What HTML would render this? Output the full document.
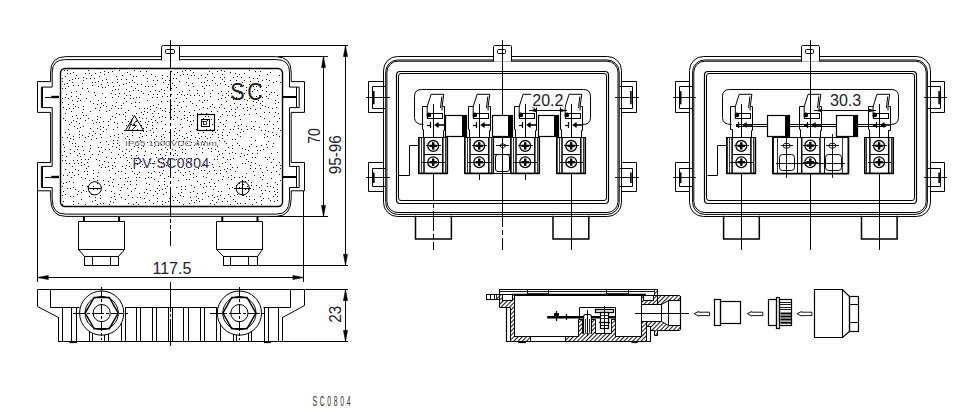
<!DOCTYPE html>
<html><head><meta charset="utf-8"><title>SC0804</title>
<style>
html,body{margin:0;padding:0;background:#fff;}
body{width:966px;height:418px;overflow:hidden;font-family:"Liberation Sans",sans-serif;}
svg{display:block;font-family:"Liberation Sans",sans-serif;}
</style></head><body>
<svg width="966" height="418" viewBox="0 0 966 418" stroke="#000" fill="none" stroke-linecap="butt">
<defs><pattern id="hatch" width="3" height="3" patternUnits="userSpaceOnUse" patternTransform="rotate(-45)"><rect width="3" height="3" fill="#fff" stroke="none"/><line x1="0" y1="1.5" x2="3" y2="1.5" stroke="#000" stroke-width="0.9"/></pattern></defs>
<rect x="0" y="0" width="966" height="418" fill="#fff" stroke="none"/>
<path d="M66.1,56.6 H275.7 Q291.2,56.6 291.2,72.1 V81.6 H304.5 V112.4 H291.2 V162.5 H304.5 V190.8 H291.2 V198.4 Q291.2,216.4 276.2,216.4 H65.6 Q50.6,216.4 50.6,198.4 V190.8 H37.5 V162.5 H50.6 V112.4 H37.5 V81.6 H50.6 V72.1 Q50.6,56.6 66.1,56.6 Z" stroke-width="1" fill="none" />
<path d="M65.2,59.6 H276.5 Q289.5,59.6 289.5,72.1 V87.1 H299.2 V107.6 H289.5 V166.4 H299.2 V187.5 H289.5 V199.1 Q289.5,214.1 276.5,214.1 H65.2 Q52.2,214.1 52.2,199.1 V187.5 H41.4 V166.4 H52.2 V107.6 H41.4 V87.1 H52.2 V72.1 Q52.2,59.6 65.2,59.6 Z" stroke-width="1" fill="none" />
<line x1="42.5" y1="87.0" x2="42.5" y2="108.0" stroke-width="1" />
<line x1="296.5" y1="87.0" x2="296.5" y2="108.0" stroke-width="1" />
<line x1="45.0" y1="97.5" x2="51.0" y2="97.5" stroke-width="1" />
<line x1="51.3" y1="97.0" x2="59.0" y2="97.0" stroke-width="2.4" />
<line x1="282.0" y1="97.0" x2="296.7" y2="97.0" stroke-width="2" />
<line x1="42.5" y1="166.0" x2="42.5" y2="188.0" stroke-width="1" />
<line x1="296.5" y1="166.0" x2="296.5" y2="188.0" stroke-width="1" />
<line x1="45.0" y1="177.5" x2="51.0" y2="177.5" stroke-width="1" />
<line x1="51.3" y1="177.0" x2="59.0" y2="177.0" stroke-width="2.4" />
<line x1="282.0" y1="177.0" x2="296.7" y2="177.0" stroke-width="2" />
<rect x="60.5" y="68.5" width="222.0" height="138.0" rx="4.5" stroke-width="1.4" fill="none" />
<path d="M144 108h1M163 82h1M80 94h1M155 84h1M191 124h1M71 92h1M173 177h1M79 131h1M85 178h1M77 101h1M119 85h1M209 171h1M74 126h1M73 104h1M136 177h1M98 100h1M208 148h1M205 116h1M88 118h1M157 94h1M202 86h1M206 85h1M220 122h1M189 179h1M260 150h1M181 186h1M154 146h1M125 116h1M240 132h1M82 146h1M196 196h1M149 184h1M135 88h1M92 201h1M169 112h1M255 157h1M100 195h1M169 80h1M233 89h1M257 150h1M149 159h1M214 197h1M210 186h1M131 191h1M240 86h1M77 149h1M227 184h1M134 168h1M233 158h1M67 188h1M152 113h1M218 99h1M188 85h1M117 143h1M95 133h1M163 170h1M189 90h1M104 184h1M164 141h1M97 180h1M202 141h1M242 176h1M153 167h1M121 108h1M83 115h1M100 129h1M230 129h1M65 194h1M274 116h1M129 142h1M63 107h1M169 164h1M218 151h1M220 83h1M178 170h1M162 96h1M185 172h1M77 118h1M79 123h1M174 111h1M90 157h1M215 83h1M88 70h1M207 108h1M199 95h1M155 76h1M219 166h1M100 134h1M150 163h1M183 101h1M91 194h1M181 192h1M185 149h1M83 106h1M251 137h1M184 111h1M194 75h1M114 162h1M99 76h1M256 146h1M226 93h1M240 136h1M194 163h1M104 161h1M259 127h1M198 198h1M146 127h1M218 119h1M268 131h1M271 172h1M251 128h1M113 202h1M188 161h1M249 77h1M69 141h1M182 136h1M111 158h1M176 159h1M155 90h1M118 96h1M120 190h1M114 193h1M221 70h1M184 158h1M266 91h1M275 100h1M161 121h1M184 115h1M173 155h1M84 171h1M180 172h1M252 91h1M247 110h1M105 102h1M69 108h1M213 189h1M268 107h1M218 191h1M230 159h1M101 103h1M67 73h1M266 96h1M196 105h1M173 119h1M273 124h1M69 134h1M190 131h1M257 153h1M128 177h1M275 103h1M77 160h1M179 202h1M169 198h1M95 108h1M196 200h1M66 182h1M260 116h1M217 71h1M260 108h1M106 106h1M145 202h1M197 193h1M262 97h1M132 80h1M259 95h1M191 185h1M205 77h1M256 86h1M175 153h1M218 199h1M113 140h1M177 200h1M240 203h1M128 121h1M277 184h1M97 176h1M93 170h1M175 150h1M171 88h1M116 147h1M262 101h1M245 163h1M97 189h1M163 194h1M103 127h1M103 180h1M193 173h1M148 177h1M143 93h1M66 156h1M203 187h1M174 74h1M160 154h1M194 145h1M193 86h1M90 128h1M88 91h1M129 139h1M72 116h1M131 103h1M271 178h1M279 136h1M165 108h1M199 201h1M208 196h1M241 153h1M84 141h1M130 74h1M267 136h1M83 126h1M79 137h1M93 186h1M203 176h1M73 204h1M243 131h1M90 111h1M129 82h1M108 121h1M141 148h1M197 122h1M136 184h1M190 115h1M131 158h1M267 74h1M126 79h1M249 199h1M203 118h1M193 191h1M124 184h1M89 180h1M230 196h1M201 170h1M191 148h1M238 125h1M120 157h1M112 105h1M165 158h1M65 88h1M222 135h1M76 91h1M232 167h1M191 142h1M215 132h1M239 145h1M73 187h1M109 110h1M130 184h1M62 137h1M155 154h1M202 152h1M141 125h1M153 116h1M62 155h1M159 91h1M183 141h1M190 121h1M125 199h1M260 71h1M85 137h1M271 92h1M98 172h1M212 80h1M162 75h1M138 147h1M223 129h1M83 109h1M230 169h1M246 196h1M100 142h1M247 107h1M73 201h1M222 179h1M97 204h1M254 199h1M207 74h1M273 128h1M83 77h1M225 162h1M88 166h1M204 82h1M222 74h1M222 132h1M187 137h1M62 186h1M266 87h1M230 204h1M78 191h1M126 89h1M122 122h1M121 187h1M188 167h1M81 192h1M237 143h1M258 81h1M146 135h1M228 147h1M221 104h1M77 194h1M130 95h1M234 195h1M136 202h1M135 188h1M181 189h1M258 100h1M202 121h1M141 91h1M183 74h1M81 199h1M177 138h1M115 89h1M210 93h1M129 162h1M95 200h1M133 98h1M242 163h1M121 197h1M62 195h1M236 185h1M165 147h1M168 158h1M158 150h1M92 154h1M276 171h1M92 120h1M244 73h1M251 144h1M126 165h1M78 170h1M161 89h1M154 179h1M255 140h1M280 82h1M75 143h1M224 108h1M125 138h1M173 200h1M142 118h1M259 165h1M262 179h1M69 172h1M246 90h1M74 175h1M177 105h1M226 143h1M186 82h1M202 102h1M105 190h1M134 146h1M127 136h1M165 131h1M139 193h1M204 170h1M226 111h1M190 197h1M202 126h1M177 155h1M256 185h1M171 105h1M124 93h1M106 157h1M204 93h1M143 131h1M156 136h1M269 121h1M67 175h1M160 175h1M252 204h1M115 166h1M209 162h1M197 125h1M125 168h1M164 184h1M172 149h1M279 75h1M94 78h1M170 191h1M212 195h1M62 88h1M162 189h1M176 133h1M100 203h1M236 97h1M273 187h1M83 80h1M62 102h1M121 79h1M197 181h1M240 98h1M87 88h1M138 204h1M211 119h1M161 136h1M119 70h1M64 147h1M179 141h1M183 204h1M122 133h1M242 148h1M76 75h1M111 197h1M234 177h1M82 135h1M120 178h1M156 128h1M188 78h1M240 156h1M245 177h1M154 171h1M112 71h1M266 144h1M118 137h1M89 196h1M119 194h1M168 84h1M214 107h1M116 76h1M243 85h1M109 170h1M249 98h1M82 112h1M146 118h1M109 204h1M253 189h1M70 149h1M276 165h1M146 183h1M105 97h1M133 90h1M151 177h1M93 123h1M159 161h1M242 191h1M112 165h1M200 184h1M111 152h1M155 191h1M125 173h1M72 166h1M70 188h1M78 85h1M253 86h1M217 156h1M154 139h1M147 81h1M129 151h1M68 129h1M89 191h1M245 189h1M260 168h1M264 134h1M172 196h1M95 197h1M108 72h1M267 147h1M272 108h1M217 130h1M145 151h1M179 162h1M262 90h1M193 120h1M162 110h1M78 78h1M185 153h1M129 91h1M115 94h1M243 184h1M106 129h1M179 130h1M253 101h1M261 145h1M137 141h1M207 138h1M112 182h1M124 130h1M145 86h1M163 134h1M196 129h1M228 95h1M229 188h1M71 96h1M63 191h1M157 80h1M137 129h1M92 82h1M110 119h1M81 165h1M193 115h1M117 79h1M156 157h1M98 81h1M114 135h1M71 122h1M270 72h1M271 153h1M166 165h1M109 149h1M70 196h1M202 193h1M78 174h1M87 171h1M231 109h1M229 111h1M232 148h1M141 161h1M168 176h1M66 163h1M226 120h1M162 173h1M170 99h1M179 111h1M95 73h1M75 106h1M226 171h1M84 164h1M151 142h1M103 203h1M105 87h1M187 120h1M139 102h1M276 81h1M75 169h1M225 126h1M220 173h1M274 191h1M108 125h1M72 172h1M194 110h1M125 119h1M72 79h1M232 152h1M215 186h1M202 148h1M228 177h1M140 133h1M170 169h1M230 164h1M174 115h1M67 70h1M220 195h1M176 187h1M269 191h1M267 183h1M191 200h1M230 80h1M83 150h1M261 200h1M82 83h1M158 104h1M68 86h1M187 143h1M269 112h1M218 134h1M102 152h1M219 140h1M270 186h1M190 192h1M122 151h1M112 116h1M165 111h1M224 141h1M235 153h1M158 113h1M264 137h1M210 96h1M250 165h1M129 166h1M156 107h1M257 90h1M175 128h1M107 82h1M126 149h1M225 150h1M249 70h1M253 78h1M118 108h1M136 180h1M168 201h1M67 83h1M62 160h1M139 97h1M212 104h1M221 191h1M65 132h1M243 108h1M177 94h1M78 107h1M232 139h1M164 137h1M64 84h1M227 159h1M214 183h1M216 202h1M249 196h1M125 112h1M62 81h1M165 117h1M76 96h1M65 120h1M78 146h1M247 192h1M158 181h1M82 185h1M88 136h1M130 181h1M237 203h1M129 145h1M65 113h1M128 130h1M277 121h1M146 131h1M159 190h1M182 71h1M247 129h1M264 124h1M206 113h1M68 98h1M150 106h1M241 77h1M69 80h1M250 81h1M78 163h1M113 86h1M255 168h1M89 133h1M114 122h1M90 78h1M273 143h1M184 95h1M95 95h1M137 151h1M151 135h1M134 82h1M144 198h1M220 77h1M263 175h1M69 181h1M194 95h1M150 190h1M242 82h1M244 93h1M209 143h1M62 204h1M113 143h1M187 94h1M187 117h1M188 158h1M274 201h1M128 110h1M134 124h1M241 129h1M189 112h1M222 153h1M153 94h1M170 76h1M157 122h1M139 137h1M105 167h1M179 102h1M198 78h1M151 153h1M174 135h1M210 129h1M255 109h1M125 153h1M110 136h1M112 168h1M100 107h1M249 146h1M173 140h1M112 97h1M225 97h1M70 73h1M164 181h1M190 145h1M180 75h1M216 173h1M280 180h1M278 128h1M235 116h1M226 101h1M178 180h1M142 136h1M222 95h1M169 132h1M262 172h1M185 186h1M229 153h1M126 125h1M103 121h1M194 159h1M87 186h1M167 186h1M115 117h1M162 201h1M248 161h1M225 84h1M159 172h1M81 177h1M210 137h1M139 172h1M267 170h1M180 124h1M260 87h1M182 127h1M181 145h1M256 102h1M261 190h1M152 128h1M237 134h1M171 117h1M185 70h1M268 141h1M153 132h1M144 192h1M186 179h1M221 91h1M101 147h1M280 168h1M262 105h1M197 158h1M230 72h1M126 95h1M210 106h1M109 185h1M150 109h1M115 173h1M264 112h1M218 93h1M197 90h1M251 182h1M233 99h1M204 100h1M121 105h1M183 196h1M185 189h1M104 71h1M232 145h1M277 189h1M108 162h1M224 77h1M269 94h1M186 106h1M148 94h1M261 204h1M126 83h1M136 160h1M273 196h1M165 155h1M190 139h1M191 158h1M114 196h1M143 146h1M94 92h1M262 80h1M201 82h1M217 85h1M263 198h1M201 166h1M219 107h1M232 187h1M222 114h1M71 177h1M263 149h1M205 136h1M139 117h1M143 75h1M172 83h1M189 203h1M72 100h1M260 177h1M176 87h1M65 169h1M183 175h1M202 96h1M83 190h1M171 71h1M93 103h1M132 132h1M177 117h1M74 163h1M137 197h1M179 135h1M75 78h1M161 149h1M141 112h1M275 194h1M142 164h1M209 182h1M154 111h1M223 176h1M184 168h1M261 185h1M131 155h1M77 155h1M215 149h1M211 179h1M161 166h1M134 70h1M102 80h1M135 106h1M132 197h1M150 91h1M266 167h1M113 129h1M141 84h1M235 171h1M127 72h1M179 92h1M199 160h1M121 171h1M210 203h1M128 203h1M111 93h1M108 144h1M154 161h1M165 202h1M73 196h1M157 97h1M157 188h1M214 77h1M86 78h1M212 124h1M171 94h1M148 121h1M108 166h1M204 164h1M242 187h1M206 129h1M233 199h1M162 116h1M246 126h1M106 79h1M127 160h1M99 151h1M255 71h1M112 146h1M256 96h1M182 152h1M161 101h1M157 193h1M174 131h1M235 73h1M181 119h1M266 79h1M253 105h1M86 168h1M222 163h1M98 154h1M203 107h1M174 108h1M147 112h1M128 195h1M89 151h1M178 193h1M223 124h1M205 192h1M92 135h1M255 121h1M161 144h1M149 200h1M97 183h1M135 117h1M117 140h1M208 116h1M97 116h1M244 114h1M112 90h1M274 92h1M217 196h1M97 119h1M211 148h1M78 203h1M147 142h1M277 196h1M85 73h1M166 192h1M96 138h1M71 111h1M209 71h1M153 203h1M80 100h1M209 85h1M136 97h1M68 104h1M220 116h1M66 94h1M240 119h1M88 159h1M86 115h1M73 139h1M93 189h1M90 101h1M93 173h1M97 128h1M253 171h1M104 74h1M224 169h1M239 177h1M214 204h1M148 172h1M123 155h1M245 181h1M277 152h1M99 160h1M125 178h1M197 117h1M79 153h1M191 75h1M224 81h1M269 80h1M70 138h1M235 139h1M222 79h1M126 101h1M72 143h1M90 148h1M92 85h1M181 107h1M174 101h1M192 103h1M137 174h1M218 126h1M179 147h1M182 149h1M110 201h1M65 160h1M103 131h1M137 84h1M259 75h1M102 87h1M217 159h1M174 85h1M194 169h1M275 182h1M152 97h1M235 109h1M86 191h1M167 96h1M63 175h1M189 171h1M168 141h1M221 98h1M159 185h1M239 187h1M162 204h1M199 147h1M173 166h1M84 154h1M145 122h1M194 202h1M248 180h1M153 80h1M214 159h1M177 72h1M235 87h1M87 174h1M157 198h1M110 177h1M239 93h1M90 145h1M270 200h1M115 199h1M108 85h1M64 70h1M140 71h1M277 95h1M212 73h1M233 77h1M227 201h1M167 101h1M99 110h1M218 180h1M268 85h1M151 119h1M118 171h1M212 114h1M139 177h1M234 126h1M167 149h1M159 117h1M63 144h1M163 162h1M198 168h1M228 86h1M93 178h1M273 159h1M203 132h1M150 130h1M173 78h1M133 76h1M123 103h1M85 120h1M204 183h1M102 164h1M152 125h1M246 173h1M234 103h1M212 164h1M198 133h1M116 102h1M235 201h1M250 168h1M239 115h1M231 97h1M268 198h1M245 149h1M135 102h1M165 188h1M260 103h1M132 115h1M69 163h1M167 76h1M91 139h1M244 80h1M165 80h1M217 111h1M101 167h1M245 203h1M127 181h1M62 98h1M72 82h1M124 98h1M115 158h1M253 126h1M133 204h1M85 159h1M170 183h1M251 185h1M192 83h1M235 122h1M278 102h1M73 136h1M106 111h1M261 130h1M201 136h1M97 104h1M237 194h1M63 201h1M239 183h1M96 159h1M212 131h1M147 100h1M256 113h1M73 85h1M176 98h1M136 113h1M204 88h1M73 72h1M229 132h1M276 107h1M137 164h1M278 113h1M252 153h1M143 128h1M276 134h1M123 84h1M207 173h1M138 90h1M103 105h1M175 172h1M184 118h1M62 78h1M277 200h1M231 84h1M193 177h1M148 86h1M232 115h1M158 145h1M63 183h1M267 159h1M207 120h1M182 91h1M194 187h1M171 109h1M164 90h1M247 154h1M217 146h1M206 177h1M230 105h1M138 157h1M279 118h1M118 184h1M99 165h1M118 134h1M243 195h1M212 90h1M279 174h1M202 199h1M244 99h1M222 201h1M201 113h1M111 191h1M260 84h1M241 124h1M252 157h1M273 135h1M93 131h1M157 201h1M153 195h1M73 160h1M91 75h1M186 98h1M203 144h1M237 167h1M212 134h1M199 138h1M220 170h1M162 128h1M81 162h1M116 113h1M271 162h1M248 189h1M146 189h1M147 193h1M179 81h1M131 168h1M131 86h1M153 105h1M113 179h1M154 142h1M265 130h1M265 106h1M251 162h1M151 173h1M262 193h1M190 164h1M96 122h1M98 147h1M126 157h1M80 118h1M246 87h1M143 114h1M132 135h1M201 75h1M222 138h1M122 75h1M117 82h1M190 95h1M249 84h1M95 82h1M82 88h1M269 157h1M246 104h1M63 118h1M69 124h1M228 194h1M260 196h1M127 188h1M65 76h1M219 154h1M102 93h1M66 109h1M115 106h1M197 93h1M199 109h1M257 78h1M205 141h1M197 140h1M87 162h1M164 93h1M250 108h1M175 197h1M89 73h1M77 128h1M206 166h1M67 137h1M152 122h1M145 178h1M184 138h1M272 146h1M146 71h1M186 133h1M279 162h1M73 182h1M108 181h1M237 76h1M268 98h1M100 72h1M100 198h1M147 78h1M74 151h1M78 98h1M237 107h1M224 198h1M81 159h1M117 127h1M249 88h1M73 120h1M166 162h1M164 178h1M160 108h1M224 71h1M213 167h1M122 166h1M152 86h1M80 127h1M218 137h1M246 159h1M208 126h1M98 86h1M255 163h1M197 113h1M123 114h1M101 187h1M144 167h1M132 171h1M249 114h1M256 202h1M76 115h1M140 140h1M85 204h1M227 135h1M280 165h1M196 176h1M89 188h1M193 72h1M233 129h1M251 121h1M259 187h1M118 89h1M206 186h1M76 121h1M244 155h1M144 155h1M195 137h1M236 83h1M140 121h1M180 195h1M113 186h1M248 150h1M166 152h1M136 121h1M267 186h1M189 126h1M267 124h1M99 122h1M181 94h1M101 84h1M240 104h1M211 151h1M162 78h1M119 93h1M100 117h1M151 74h1M111 108h1M247 186h1M86 98h1M214 170h1M231 93h1M277 192h1M139 108h1M199 100h1M207 80h1M191 135h1M155 120h1M134 173h1M65 97h1M238 128h1M101 137h1M207 100h1M272 132h1M80 156h1M64 151h1M235 112h1M118 154h1M196 154h1M112 82h1M211 111h1M75 189h1M275 112h1M79 134h1M254 129h1M265 157h1M273 167h1M231 179h1M187 74h1M147 124h1M136 155h1M236 80h1M161 139h1M147 108h1M140 197h1M264 118h1M140 166h1M239 74h1M70 153h1M212 200h1M106 141h1M136 76h1M228 91h1M144 111h1M273 82h1M105 149h1M75 146h1M131 149h1M265 190h1M130 98h1M190 174h1M73 108h1M231 175h1M254 89h1M197 143h1M254 175h1M227 115h1M247 100h1M162 157h1M167 87h1M190 70h1M280 130h1M165 124h1M100 126h1M190 101h1M227 168h1M131 124h1M119 149h1M176 78h1M119 145h1M223 157h1M117 123h1M119 114h1" stroke="#111" stroke-width="1" fill="none" shape-rendering="crispEdges" transform="translate(0,0.5)"/>
<rect x="162" y="46" width="17.5" height="14.4" fill="#fff" stroke="none"/>
<path d="M161.5,60.5 V47.5 Q161.5,45.5 163.5,45.5 H179.5 V60.5" stroke-width="1" fill="none" />
<rect x="165.5" y="49.5" width="9.0" height="4.0" rx="1" stroke-width="1" fill="none" />
<line x1="170.5" y1="40.0" x2="170.5" y2="68.0" stroke-width="1" />
<line x1="170.5" y1="71.0" x2="170.5" y2="206.0" stroke-width="1" stroke-dasharray="20 3 3 3"/>
<line x1="170.5" y1="206.0" x2="170.5" y2="217.0" stroke-width="1" />
<line x1="170.5" y1="219.0" x2="170.5" y2="223.0" stroke-width="1" />
<line x1="170.5" y1="225.0" x2="170.5" y2="229.0" stroke-width="1" />
<line x1="170.5" y1="231.0" x2="170.5" y2="246.0" stroke-width="1" />
<g transform="translate(230.2,100.3) scale(0.9,1)"><text x="0" y="0" font-size="24" fill="#1a1a1a" stroke="none">S</text><text x="19" y="0" font-size="24" fill="#1a1a1a" stroke="none">C</text></g>
<path d="M134.5,115.5 L125.5,130.5 H143.5 Z" stroke-width="1" fill="none" />
<path d="M132.5,118.5 L128.5,130.5 M136.5,120.5 L132.5,125.5 L136.5,125.5 L131.5,130.5" stroke-width="0.9" fill="none" />
<rect x="197.5" y="114.5" width="17.0" height="16.0" rx="0" stroke-width="1.2" fill="none" />
<rect x="201.5" y="119.5" width="8.0" height="7.0" rx="0" stroke-width="1" fill="none" />
<rect x="203.5" y="121.5" width="3.0" height="3.0" rx="0" stroke-width="0.8" fill="none" />
<text x="124.9" y="146.0" font-size="7.4" fill="#666" stroke="none" textLength="92" lengthAdjust="spacingAndGlyphs">IP65  1000VDC 4mm</text>
<text x="132.4" y="168.4" font-size="14" fill="#40305e" stroke="none" textLength="77" lengthAdjust="spacing">PV-SC0804</text>
<circle cx="94.8" cy="188.3" r="6.6" stroke-width="1" fill="none"/>
<line x1="88.0" y1="188.5" x2="101.0" y2="188.5" stroke-width="1" />
<circle cx="242.7" cy="188.3" r="6.6" stroke-width="1" fill="none"/>
<line x1="234.0" y1="188.5" x2="251.0" y2="188.5" stroke-width="1" />
<line x1="242.5" y1="180.0" x2="242.5" y2="196.0" stroke-width="1" />
<line x1="83.9" y1="216.4" x2="83.9" y2="221.7" stroke-width="2" />
<line x1="119.1" y1="216.4" x2="119.1" y2="221.7" stroke-width="2" />
<path d="M78.5,221.5 H124.5 V249.5 L118.5,256.5 H84.5 L78.5,249.5 Z" stroke-width="1" fill="none" />
<line x1="78.0" y1="249.5" x2="124.0" y2="249.5" stroke-width="1" />
<rect x="84.5" y="256.5" width="34.0" height="9.0" rx="0" stroke-width="1" fill="none" />
<line x1="92.5" y1="256.0" x2="92.5" y2="265.0" stroke-width="1" />
<line x1="110.5" y1="256.0" x2="110.5" y2="265.0" stroke-width="1" />
<line x1="222.3" y1="216.4" x2="222.3" y2="221.7" stroke-width="2" />
<line x1="257.5" y1="216.4" x2="257.5" y2="221.7" stroke-width="2" />
<path d="M216.5,221.5 H262.5 V249.5 L257.5,256.5 H223.5 L216.5,249.5 Z" stroke-width="1" fill="none" />
<line x1="217.0" y1="249.5" x2="263.0" y2="249.5" stroke-width="1" />
<rect x="223.5" y="256.5" width="34.0" height="9.0" rx="0" stroke-width="1" fill="none" />
<line x1="230.5" y1="256.0" x2="230.5" y2="265.0" stroke-width="1" />
<line x1="248.5" y1="256.0" x2="248.5" y2="265.0" stroke-width="1" />
<line x1="37.5" y1="191.0" x2="37.5" y2="282.0" stroke-width="1" />
<line x1="303.5" y1="191.0" x2="303.5" y2="282.0" stroke-width="1" />
<line x1="37.0" y1="277.5" x2="304.0" y2="277.5" stroke-width="1" />
<polygon points="37.3,277.5 48.3,275.5 48.3,279.5" fill="#000" stroke="#000" stroke-width="0.6"/>
<polygon points="303.9,277.5 292.9,275.5 292.9,279.5" fill="#000" stroke="#000" stroke-width="0.6"/>
<text x="152.5" y="273.5" font-size="16" fill="#202028" stroke="none" >117.5</text>
<line x1="278.0" y1="56.5" x2="328.0" y2="56.5" stroke-width="1" />
<line x1="268.0" y1="216.5" x2="328.0" y2="216.5" stroke-width="1" />
<line x1="323.5" y1="57.0" x2="323.5" y2="216.0" stroke-width="1" />
<polygon points="323.5,56.6 321.5,67.6 325.5,67.6" fill="#000" stroke="#000" stroke-width="0.6"/>
<polygon points="323.5,216.4 321.5,205.4 325.5,205.4" fill="#000" stroke="#000" stroke-width="0.6"/>
<text transform="translate(319.8,143.8) rotate(-90)" font-size="16" fill="#202028" stroke="none" textLength="15.5" lengthAdjust="spacingAndGlyphs">70</text>
<line x1="179.0" y1="45.5" x2="348.0" y2="45.5" stroke-width="1" />
<line x1="257.0" y1="265.5" x2="348.0" y2="265.5" stroke-width="1" />
<line x1="345.5" y1="46.0" x2="345.5" y2="265.0" stroke-width="1" />
<polygon points="345.5,45.5 343.5,56.5 347.5,56.5" fill="#000" stroke="#000" stroke-width="0.6"/>
<polygon points="345.5,265.3 343.5,254.3 347.5,254.3" fill="#000" stroke="#000" stroke-width="0.6"/>
<text transform="translate(341.2,174.3) rotate(-90)" font-size="16" fill="#202028" stroke="none" textLength="39" lengthAdjust="spacingAndGlyphs">95-96</text>
<path d="M37.5,289.5 H304.5 V305.5 L282.5,317.5 M37.5,289.5 V306.5 L58.5,317.5" stroke-width="1" fill="none" />
<path d="M50.5,289.5 V307.5 H79.5 M125.5,307.5 H217.5 M263.5,307.5 H290.5 V289.5" stroke-width="1" fill="none" />
<line x1="58.0" y1="341.5" x2="283.0" y2="341.5" stroke-width="1" />
<line x1="58.5" y1="317.0" x2="58.5" y2="341.0" stroke-width="1" />
<line x1="62.5" y1="307.0" x2="62.5" y2="341.0" stroke-width="1" />
<line x1="71.5" y1="307.0" x2="71.5" y2="341.0" stroke-width="1" />
<line x1="76.5" y1="307.0" x2="76.5" y2="341.0" stroke-width="1" />
<line x1="121.5" y1="307.0" x2="121.5" y2="341.0" stroke-width="1" />
<line x1="125.5" y1="307.0" x2="125.5" y2="341.0" stroke-width="1" />
<line x1="136.5" y1="307.0" x2="136.5" y2="341.0" stroke-width="1" />
<line x1="140.5" y1="307.0" x2="140.5" y2="341.0" stroke-width="1" />
<line x1="152.5" y1="307.0" x2="152.5" y2="341.0" stroke-width="1" />
<line x1="156.5" y1="307.0" x2="156.5" y2="341.0" stroke-width="1" />
<line x1="168.5" y1="307.0" x2="168.5" y2="341.0" stroke-width="1" />
<line x1="172.5" y1="307.0" x2="172.5" y2="341.0" stroke-width="1" />
<line x1="183.5" y1="307.0" x2="183.5" y2="341.0" stroke-width="1" />
<line x1="188.5" y1="307.0" x2="188.5" y2="341.0" stroke-width="1" />
<line x1="200.5" y1="307.0" x2="200.5" y2="341.0" stroke-width="1" />
<line x1="204.5" y1="307.0" x2="204.5" y2="341.0" stroke-width="1" />
<line x1="216.5" y1="307.0" x2="216.5" y2="341.0" stroke-width="1" />
<line x1="220.5" y1="307.0" x2="220.5" y2="341.0" stroke-width="1" />
<line x1="264.5" y1="307.0" x2="264.5" y2="341.0" stroke-width="1" />
<line x1="268.5" y1="307.0" x2="268.5" y2="341.0" stroke-width="1" />
<line x1="278.5" y1="307.0" x2="278.5" y2="341.0" stroke-width="1" />
<line x1="282.5" y1="317.0" x2="282.5" y2="341.0" stroke-width="1" />
<circle cx="101.7" cy="313.1" r="22.1" stroke-width="1" fill="#fff"/>
<circle cx="101.7" cy="313.1" r="16.6" stroke-width="1" fill="none"/>
<polygon points="118.2,313.1 109.3,328.7 94.1,328.7 85.2,313.1 94.1,297.5 109.3,297.5" stroke-width="1.4" fill="none"/>
<circle cx="101.7" cy="313.1" r="8.6" stroke-width="1" fill="none"/>
<line x1="73.0" y1="313.5" x2="129.0" y2="313.5" stroke-width="1" stroke-dasharray="12 2 3 2"/>
<line x1="101.5" y1="287.0" x2="101.5" y2="340.0" stroke-width="1" stroke-dasharray="10 2 3 2"/>
<line x1="89.5" y1="331.0" x2="89.5" y2="341.0" stroke-width="1" />
<line x1="92.5" y1="333.0" x2="92.5" y2="341.0" stroke-width="1" />
<line x1="104.5" y1="335.0" x2="104.5" y2="341.0" stroke-width="1" />
<line x1="108.5" y1="334.0" x2="108.5" y2="341.0" stroke-width="1" />
<circle cx="239.4" cy="313.1" r="22.1" stroke-width="1" fill="#fff"/>
<circle cx="239.4" cy="313.1" r="16.6" stroke-width="1" fill="none"/>
<polygon points="255.9,313.1 247.0,328.7 231.8,328.7 222.9,313.1 231.8,297.5 247.0,297.5" stroke-width="1.4" fill="none"/>
<circle cx="239.4" cy="313.1" r="8.6" stroke-width="1" fill="none"/>
<line x1="210.0" y1="313.5" x2="266.0" y2="313.5" stroke-width="1" stroke-dasharray="12 2 3 2"/>
<line x1="239.5" y1="287.0" x2="239.5" y2="340.0" stroke-width="1" stroke-dasharray="10 2 3 2"/>
<line x1="233.5" y1="334.0" x2="233.5" y2="341.0" stroke-width="1" />
<line x1="236.5" y1="335.0" x2="236.5" y2="341.0" stroke-width="1" />
<line x1="248.5" y1="333.0" x2="248.5" y2="341.0" stroke-width="1" />
<line x1="251.5" y1="331.0" x2="251.5" y2="341.0" stroke-width="1" />
<line x1="69.5" y1="342.3" x2="77.0" y2="342.3" stroke-width="1.6" />
<line x1="264.0" y1="342.3" x2="271.0" y2="342.3" stroke-width="1.6" />
<line x1="170.5" y1="282.0" x2="170.5" y2="346.0" stroke-width="1" stroke-dasharray="30 2 3 2"/>
<line x1="305.0" y1="289.5" x2="348.0" y2="289.5" stroke-width="1" />
<line x1="283.0" y1="341.5" x2="348.0" y2="341.5" stroke-width="1" />
<line x1="345.5" y1="290.0" x2="345.5" y2="341.0" stroke-width="1" />
<polygon points="345.5,289.5 343.5,300.5 347.5,300.5" fill="#000" stroke="#000" stroke-width="0.6"/>
<polygon points="345.5,341.4 343.5,330.4 347.5,330.4" fill="#000" stroke="#000" stroke-width="0.6"/>
<text transform="translate(341.1,322.8) rotate(-90)" font-size="16" fill="#202028" stroke="none" textLength="17" lengthAdjust="spacingAndGlyphs">23</text>
<text transform="translate(312.4,406.2) scale(0.43,0.97)" font-size="16" fill="#333" stroke="none" textLength="89" lengthAdjust="spacing">SC0804</text>
<path d="M383.5,81.5 H368.5 V112.5 H383.5" stroke-width="1" fill="#fff" />
<path d="M385.5,86.5 H372.5 V108.5 H385.5" stroke-width="1" fill="none" />
<line x1="373.8" y1="91.1" x2="373.8" y2="104.3" stroke-width="1.6" />
<line x1="366.0" y1="97.5" x2="390.0" y2="97.5" stroke-width="0.9" />
<path d="M621.5,81.5 H636.5 V112.5 H621.5" stroke-width="1" fill="#fff" />
<path d="M619.5,86.5 H632.5 V108.5 H619.5" stroke-width="1" fill="none" />
<line x1="630.9" y1="91.1" x2="630.9" y2="104.3" stroke-width="1.6" />
<line x1="615.0" y1="97.5" x2="639.0" y2="97.5" stroke-width="0.9" />
<path d="M383.5,162.5 H368.5 V191.5 H383.5" stroke-width="1" fill="#fff" />
<path d="M385.5,168.5 H372.5 V186.5 H385.5" stroke-width="1" fill="none" />
<line x1="373.8" y1="172.4" x2="373.8" y2="183.1" stroke-width="1.6" />
<line x1="366.0" y1="177.5" x2="390.0" y2="177.5" stroke-width="0.9" />
<path d="M621.5,162.5 H636.5 V191.5 H621.5" stroke-width="1" fill="#fff" />
<path d="M619.5,168.5 H632.5 V186.5 H619.5" stroke-width="1" fill="none" />
<line x1="630.9" y1="172.4" x2="630.9" y2="183.1" stroke-width="1.6" />
<line x1="615.0" y1="177.5" x2="639.0" y2="177.5" stroke-width="0.9" />
<rect x="383.5" y="56.5" width="238.0" height="160.0" rx="14" stroke-width="1" fill="none" />
<rect x="385.7" y="60.0" width="233.5" height="154.4" rx="12" stroke-width="1" fill="none" />
<rect x="386.9" y="61.2" width="231.1" height="151.3" rx="11" stroke-width="1" fill="none" />
<rect x="494.1" y="46" width="17.4" height="15.6" fill="#fff" stroke="none"/>
<path d="M493.5,61.5 V46.5 Q493.5,45.5 495.5,45.5 H510.5 Q511.5,45.5 511.5,46.5 V61.5" stroke-width="1" fill="none" />
<rect x="497.5" y="49.5" width="8.0" height="4.0" rx="1" stroke-width="1" fill="none" />
<rect x="396.5" y="71.5" width="212.0" height="132.0" rx="3.5" stroke-width="1.2" fill="none" />
<rect x="398.5" y="73.5" width="208.0" height="127.0" rx="2.5" stroke-width="1" fill="none" />
<line x1="502.5" y1="40.0" x2="502.5" y2="207.0" stroke-width="1" />
<line x1="502.5" y1="207.0" x2="502.5" y2="250.0" stroke-width="1" stroke-dasharray="20 3 5 3"/>
<path d="M423.5,124.5 Q414.5,124.5 414.5,117.5 V96.5 Q414.5,89.5 421.5,89.5 H583.5 Q590.5,89.5 590.5,96.5 V117.5 Q590.5,124.5 582.5,124.5" stroke-width="1" fill="none" />
<rect x="445.5" y="115.5" width="21.0" height="21.0" rx="0" stroke-width="1.2" fill="#fff" />
<rect x="462.5" y="115.5" width="4.0" height="21.0" rx="0" stroke-width="1" fill="#000" />
<rect x="492.5" y="115.5" width="20.0" height="21.0" rx="0" stroke-width="1.2" fill="#fff" />
<rect x="508.5" y="115.5" width="4.0" height="21.0" rx="0" stroke-width="1" fill="#000" />
<rect x="538.5" y="115.5" width="20.0" height="21.0" rx="0" stroke-width="1.2" fill="#fff" />
<rect x="554.5" y="115.5" width="4.0" height="21.0" rx="0" stroke-width="1" fill="#000" />
<path d="M427.5,106.5 H422.5 V129.5 H423.5 V137.5 M442.5,106.5 H444.5 V130.5 H443.5 V137.5" stroke-width="1" fill="none" />
<path d="M427.2,117.5 V106.6 L431.09999999999997,94.3 H443.8 L442.09999999999997,106.6 V110.5 M441.8,96.5 L440.5,108" stroke-width="1" fill="none" />
<rect x="427.5" y="113.5" width="15.0" height="5.0" rx="0" stroke-width="1" fill="none" />
<circle cx="428.9" cy="114.9" r="1.7" stroke-width="1.2" fill="#000"/>
<line x1="427.0" y1="125.5" x2="431.0" y2="125.5" stroke-width="1.2" />
<line x1="430.5" y1="122.0" x2="430.5" y2="128.0" stroke-width="1.2" />
<path d="M434.7,125 l3.6,-2.4 v4.8 z" stroke-width="0.7" fill="#000" />
<line x1="437.2" y1="125.0" x2="444.8" y2="125.0" stroke-width="1.6" />
<line x1="433.5" y1="104.0" x2="433.5" y2="180.0" stroke-width="1" />
<path d="M473.5,106.5 H468.5 V129.5 H469.5 V137.5 M488.5,106.5 H490.5 V130.5 H489.5 V137.5" stroke-width="1" fill="none" />
<path d="M473.2,117.5 V106.6 L477.09999999999997,94.3 H489.8 L488.09999999999997,106.6 V110.5 M487.8,96.5 L486.5,108" stroke-width="1" fill="none" />
<rect x="473.5" y="113.5" width="15.0" height="5.0" rx="0" stroke-width="1" fill="none" />
<circle cx="474.9" cy="114.9" r="1.7" stroke-width="1.2" fill="#000"/>
<line x1="473.0" y1="125.5" x2="477.0" y2="125.5" stroke-width="1.2" />
<line x1="476.5" y1="122.0" x2="476.5" y2="128.0" stroke-width="1.2" />
<path d="M480.7,125 l3.6,-2.4 v4.8 z" stroke-width="0.7" fill="#000" />
<line x1="483.2" y1="125.0" x2="490.8" y2="125.0" stroke-width="1.6" />
<line x1="479.5" y1="104.0" x2="479.5" y2="180.0" stroke-width="1" />
<path d="M519.5,106.5 H514.5 V129.5 H515.5 V137.5 M534.5,106.5 H536.5 V130.5 H535.5 V137.5" stroke-width="1" fill="none" />
<path d="M519.2,117.5 V106.6 L523.1,94.3 H535.8000000000001 L534.1,106.6 V110.5 M533.8000000000001,96.5 L532.5,108" stroke-width="1" fill="none" />
<rect x="519.5" y="113.5" width="15.0" height="5.0" rx="0" stroke-width="1" fill="none" />
<circle cx="520.9" cy="114.9" r="1.7" stroke-width="1.2" fill="#000"/>
<line x1="519.0" y1="125.5" x2="523.0" y2="125.5" stroke-width="1.2" />
<line x1="522.5" y1="122.0" x2="522.5" y2="128.0" stroke-width="1.2" />
<path d="M526.7,125 l3.6,-2.4 v4.8 z" stroke-width="0.7" fill="#000" />
<line x1="529.2" y1="125.0" x2="536.8" y2="125.0" stroke-width="1.6" />
<line x1="525.5" y1="104.0" x2="525.5" y2="180.0" stroke-width="1" />
<path d="M565.5,106.5 H560.5 V129.5 H561.5 V137.5 M580.5,106.5 H582.5 V130.5 H581.5 V137.5" stroke-width="1" fill="none" />
<path d="M565.2,117.5 V106.6 L569.1,94.3 H581.8000000000001 L580.1,106.6 V110.5 M579.8000000000001,96.5 L578.5,108" stroke-width="1" fill="none" />
<rect x="565.5" y="113.5" width="15.0" height="5.0" rx="0" stroke-width="1" fill="none" />
<circle cx="566.9" cy="114.9" r="1.7" stroke-width="1.2" fill="#000"/>
<line x1="565.0" y1="125.5" x2="569.0" y2="125.5" stroke-width="1.2" />
<line x1="568.5" y1="122.0" x2="568.5" y2="128.0" stroke-width="1.2" />
<path d="M572.7,125 l3.6,-2.4 v4.8 z" stroke-width="0.7" fill="#000" />
<line x1="575.2" y1="125.0" x2="582.8" y2="125.0" stroke-width="1.6" />
<line x1="571.5" y1="104.0" x2="571.5" y2="180.0" stroke-width="1" />
<rect x="418.5" y="137.5" width="29.0" height="36.0" rx="0" stroke-width="1" fill="#fff" />
<line x1="418.9" y1="137.4" x2="418.9" y2="173.6" stroke-width="1.6" />
<line x1="447.3" y1="137.4" x2="447.3" y2="173.6" stroke-width="1.6" />
<line x1="418.6" y1="173.4" x2="447.6" y2="173.4" stroke-width="1.7" />
<line x1="421.5" y1="137.0" x2="421.5" y2="174.0" stroke-width="0.8" />
<line x1="445.5" y1="137.0" x2="445.5" y2="174.0" stroke-width="0.8" />
<line x1="424.0" y1="137.4" x2="424.0" y2="173.6" stroke-width="1.5" />
<line x1="442.8" y1="137.4" x2="442.8" y2="173.6" stroke-width="1.5" />
<line x1="424.0" y1="154.5" x2="443.0" y2="154.5" stroke-width="1" />
<circle cx="433.2" cy="145.9" r="5.4" stroke-width="1.3" fill="none"/>
<line x1="429.5" y1="145.9" x2="436.9" y2="145.9" stroke-width="2.4" />
<line x1="433.2" y1="142.2" x2="433.2" y2="149.6" stroke-width="2.4" />
<line x1="426.0" y1="145.5" x2="441.0" y2="145.5" stroke-width="0.9" />
<circle cx="433.2" cy="162.2" r="5.4" stroke-width="1.3" fill="none"/>
<line x1="429.5" y1="162.2" x2="436.9" y2="162.2" stroke-width="2.4" />
<line x1="433.2" y1="158.5" x2="433.2" y2="165.9" stroke-width="2.4" />
<line x1="422.0" y1="162.5" x2="445.0" y2="162.5" stroke-width="0.9" />
<rect x="464.5" y="137.5" width="29.0" height="36.0" rx="0" stroke-width="1" fill="#fff" />
<line x1="464.9" y1="137.4" x2="464.9" y2="173.6" stroke-width="1.6" />
<line x1="493.3" y1="137.4" x2="493.3" y2="173.6" stroke-width="1.6" />
<line x1="464.6" y1="173.4" x2="493.6" y2="173.4" stroke-width="1.7" />
<line x1="467.5" y1="137.0" x2="467.5" y2="174.0" stroke-width="0.8" />
<line x1="491.5" y1="137.0" x2="491.5" y2="174.0" stroke-width="0.8" />
<line x1="470.0" y1="137.4" x2="470.0" y2="173.6" stroke-width="1.5" />
<line x1="488.8" y1="137.4" x2="488.8" y2="173.6" stroke-width="1.5" />
<line x1="470.0" y1="154.5" x2="489.0" y2="154.5" stroke-width="1" />
<circle cx="479.2" cy="145.9" r="5.4" stroke-width="1.3" fill="none"/>
<line x1="475.5" y1="145.9" x2="482.9" y2="145.9" stroke-width="2.4" />
<line x1="479.2" y1="142.2" x2="479.2" y2="149.6" stroke-width="2.4" />
<line x1="472.0" y1="145.5" x2="487.0" y2="145.5" stroke-width="0.9" />
<circle cx="479.2" cy="162.2" r="5.4" stroke-width="1.3" fill="none"/>
<line x1="475.5" y1="162.2" x2="482.9" y2="162.2" stroke-width="2.4" />
<line x1="479.2" y1="158.5" x2="479.2" y2="165.9" stroke-width="2.4" />
<line x1="468.0" y1="162.5" x2="491.0" y2="162.5" stroke-width="0.9" />
<rect x="510.5" y="137.5" width="29.0" height="36.0" rx="0" stroke-width="1" fill="#fff" />
<line x1="510.9" y1="137.4" x2="510.9" y2="173.6" stroke-width="1.6" />
<line x1="539.3" y1="137.4" x2="539.3" y2="173.6" stroke-width="1.6" />
<line x1="510.6" y1="173.4" x2="539.6" y2="173.4" stroke-width="1.7" />
<line x1="513.5" y1="137.0" x2="513.5" y2="174.0" stroke-width="0.8" />
<line x1="537.5" y1="137.0" x2="537.5" y2="174.0" stroke-width="0.8" />
<line x1="516.0" y1="137.4" x2="516.0" y2="173.6" stroke-width="1.5" />
<line x1="534.8" y1="137.4" x2="534.8" y2="173.6" stroke-width="1.5" />
<line x1="516.0" y1="154.5" x2="535.0" y2="154.5" stroke-width="1" />
<circle cx="525.2" cy="145.9" r="5.4" stroke-width="1.3" fill="none"/>
<line x1="521.5" y1="145.9" x2="528.9" y2="145.9" stroke-width="2.4" />
<line x1="525.2" y1="142.2" x2="525.2" y2="149.6" stroke-width="2.4" />
<line x1="518.0" y1="145.5" x2="533.0" y2="145.5" stroke-width="0.9" />
<circle cx="525.2" cy="162.2" r="5.4" stroke-width="1.3" fill="none"/>
<line x1="521.5" y1="162.2" x2="528.9" y2="162.2" stroke-width="2.4" />
<line x1="525.2" y1="158.5" x2="525.2" y2="165.9" stroke-width="2.4" />
<line x1="514.0" y1="162.5" x2="537.0" y2="162.5" stroke-width="0.9" />
<rect x="556.5" y="137.5" width="29.0" height="36.0" rx="0" stroke-width="1" fill="#fff" />
<line x1="556.9" y1="137.4" x2="556.9" y2="173.6" stroke-width="1.6" />
<line x1="585.3" y1="137.4" x2="585.3" y2="173.6" stroke-width="1.6" />
<line x1="556.6" y1="173.4" x2="585.6" y2="173.4" stroke-width="1.7" />
<line x1="559.5" y1="137.0" x2="559.5" y2="174.0" stroke-width="0.8" />
<line x1="583.5" y1="137.0" x2="583.5" y2="174.0" stroke-width="0.8" />
<line x1="562.0" y1="137.4" x2="562.0" y2="173.6" stroke-width="1.5" />
<line x1="580.8" y1="137.4" x2="580.8" y2="173.6" stroke-width="1.5" />
<line x1="562.0" y1="154.5" x2="581.0" y2="154.5" stroke-width="1" />
<circle cx="571.2" cy="145.9" r="5.4" stroke-width="1.3" fill="none"/>
<line x1="567.5" y1="145.9" x2="574.9" y2="145.9" stroke-width="2.4" />
<line x1="571.2" y1="142.2" x2="571.2" y2="149.6" stroke-width="2.4" />
<line x1="564.0" y1="145.5" x2="579.0" y2="145.5" stroke-width="0.9" />
<circle cx="571.2" cy="162.2" r="5.4" stroke-width="1.3" fill="none"/>
<line x1="567.5" y1="162.2" x2="574.9" y2="162.2" stroke-width="2.4" />
<line x1="571.2" y1="158.5" x2="571.2" y2="165.9" stroke-width="2.4" />
<line x1="560.0" y1="162.5" x2="583.0" y2="162.5" stroke-width="0.9" />
<rect x="493.5" y="137.5" width="17.0" height="36.0" rx="0" stroke-width="1" fill="none" />
<path d="M499.5,145.5 L502.5,143.5 L506.5,145.5 L502.5,148.5 Z" stroke-width="0.9" fill="none" />
<line x1="496.0" y1="145.5" x2="509.0" y2="145.5" stroke-width="0.9" />
<rect x="495.5" y="154.5" width="14.0" height="17.0" rx="2.5" stroke-width="1" fill="none" />
<line x1="494.0" y1="154.5" x2="511.0" y2="154.5" stroke-width="1" />
<path d="M418.5,145.5 H409.5 V175.5 H398.5" stroke-width="1" fill="none" />
<line x1="433.5" y1="180.0" x2="433.5" y2="250.0" stroke-width="1" stroke-dasharray="20 3 5 3"/>
<line x1="571.5" y1="180.0" x2="571.5" y2="250.0" stroke-width="1" />
<path d="M415.5,215.8 V239 H451.4 V215.8" stroke-width="1.5" fill="none" />
<path d="M553,215.8 V239 H588.8 V215.8" stroke-width="1.5" fill="none" />
<rect x="531" y="92" width="34" height="15.5" fill="#fff" stroke="none"/>
<line x1="529.0" y1="110.5" x2="567.0" y2="110.5" stroke-width="1" />
<polygon points="531.2,110.5 536.2,109.1 536.2,111.9" fill="#000" stroke="#000" stroke-width="0.6"/>
<polygon points="565.2,110.5 560.2,109.1 560.2,111.9" fill="#000" stroke="#000" stroke-width="0.6"/>
<text x="532.3" y="105.8" font-size="16" fill="#202028" stroke="none" >20.2</text>
<path d="M689.5,81.5 H675.5 V112.5 H689.5" stroke-width="1" fill="#fff" />
<path d="M692.5,86.5 H679.5 V108.5 H692.5" stroke-width="1" fill="none" />
<line x1="680.7" y1="91.1" x2="680.7" y2="104.3" stroke-width="1.6" />
<line x1="673.0" y1="97.5" x2="696.0" y2="97.5" stroke-width="0.9" />
<path d="M930.5,81.5 H944.5 V112.5 H930.5" stroke-width="1" fill="#fff" />
<path d="M927.5,86.5 H940.5 V108.5 H927.5" stroke-width="1" fill="none" />
<line x1="939.1" y1="91.1" x2="939.1" y2="104.3" stroke-width="1.6" />
<line x1="924.0" y1="97.5" x2="947.0" y2="97.5" stroke-width="0.9" />
<path d="M689.5,162.5 H675.5 V191.5 H689.5" stroke-width="1" fill="#fff" />
<path d="M692.5,168.5 H679.5 V186.5 H692.5" stroke-width="1" fill="none" />
<line x1="680.7" y1="172.4" x2="680.7" y2="183.1" stroke-width="1.6" />
<line x1="673.0" y1="177.5" x2="696.0" y2="177.5" stroke-width="0.9" />
<path d="M930.5,162.5 H944.5 V191.5 H930.5" stroke-width="1" fill="#fff" />
<path d="M927.5,168.5 H940.5 V186.5 H927.5" stroke-width="1" fill="none" />
<line x1="939.1" y1="172.4" x2="939.1" y2="183.1" stroke-width="1.6" />
<line x1="924.0" y1="177.5" x2="947.0" y2="177.5" stroke-width="0.9" />
<rect x="689.5" y="56.5" width="241.0" height="160.0" rx="14" stroke-width="1" fill="none" />
<rect x="692.6" y="60.0" width="234.8" height="154.4" rx="12" stroke-width="1" fill="none" />
<rect x="693.8" y="61.2" width="232.4" height="151.3" rx="11" stroke-width="1" fill="none" />
<rect x="801.9" y="46" width="17.4" height="15.6" fill="#fff" stroke="none"/>
<path d="M801.5,61.5 V46.5 Q801.5,45.5 803.5,45.5 H817.5 Q819.5,45.5 819.5,46.5 V61.5" stroke-width="1" fill="none" />
<rect x="805.5" y="49.5" width="8.0" height="4.0" rx="1" stroke-width="1" fill="none" />
<rect x="704.5" y="71.5" width="212.0" height="132.0" rx="3.5" stroke-width="1.2" fill="none" />
<rect x="706.5" y="73.5" width="208.0" height="127.0" rx="2.5" stroke-width="1" fill="none" />
<line x1="810.5" y1="40.0" x2="810.5" y2="250.0" stroke-width="1" />
<path d="M731.5,124.5 Q722.5,124.5 722.5,117.5 V96.5 Q722.5,89.5 729.5,89.5 H891.5 Q898.5,89.5 898.5,96.5 V117.5 Q898.5,124.5 890.5,124.5" stroke-width="1" fill="none" />
<line x1="736.0" y1="124.5" x2="886.0" y2="124.5" stroke-width="1" />
<line x1="736.0" y1="126.5" x2="886.0" y2="126.5" stroke-width="1" />
<rect x="767.5" y="115.5" width="22.0" height="21.0" rx="0" stroke-width="1.2" fill="#fff" />
<rect x="785.5" y="115.5" width="4.0" height="21.0" rx="0" stroke-width="1" fill="#000" />
<rect x="836.5" y="115.5" width="21.0" height="21.0" rx="0" stroke-width="1.2" fill="#fff" />
<rect x="853.5" y="115.5" width="4.0" height="21.0" rx="0" stroke-width="1" fill="#000" />
<path d="M735.5,106.5 H730.5 V129.5 H732.5 V137.5 M750.5,106.5 H752.5 V130.5 H751.5 V137.5" stroke-width="1" fill="none" />
<path d="M735.3,117.5 V106.6 L739.1999999999999,94.3 H751.9 L750.1999999999999,106.6 V110.5 M749.9,96.5 L748.5999999999999,108" stroke-width="1" fill="none" />
<rect x="735.5" y="113.5" width="15.0" height="5.0" rx="0" stroke-width="1" fill="none" />
<circle cx="737.0" cy="114.9" r="1.7" stroke-width="1.2" fill="#000"/>
<line x1="736.0" y1="125.5" x2="739.0" y2="125.5" stroke-width="1.2" />
<line x1="738.5" y1="122.0" x2="738.5" y2="128.0" stroke-width="1.2" />
<path d="M742.8,125 l3.6,-2.4 v4.8 z" stroke-width="0.7" fill="#000" />
<line x1="745.3" y1="125.0" x2="752.9" y2="125.0" stroke-width="1.6" />
<line x1="741.5" y1="104.0" x2="741.5" y2="180.0" stroke-width="1" />
<path d="M804.5,106.5 H799.5 V129.5 H800.5 V137.5 M819.5,106.5 H821.5 V130.5 H820.5 V137.5" stroke-width="1" fill="none" />
<path d="M804.2,117.5 V106.6 L808.1,94.3 H820.8000000000001 L819.1,106.6 V110.5 M818.8000000000001,96.5 L817.5,108" stroke-width="1" fill="none" />
<rect x="804.5" y="113.5" width="15.0" height="5.0" rx="0" stroke-width="1" fill="none" />
<circle cx="805.9" cy="114.9" r="1.7" stroke-width="1.2" fill="#000"/>
<line x1="804.0" y1="125.5" x2="808.0" y2="125.5" stroke-width="1.2" />
<line x1="807.5" y1="122.0" x2="807.5" y2="128.0" stroke-width="1.2" />
<path d="M811.7,125 l3.6,-2.4 v4.8 z" stroke-width="0.7" fill="#000" />
<line x1="814.2" y1="125.0" x2="821.8" y2="125.0" stroke-width="1.6" />
<line x1="810.5" y1="104.0" x2="810.5" y2="180.0" stroke-width="1" />
<path d="M873.5,106.5 H868.5 V129.5 H869.5 V137.5 M888.5,106.5 H890.5 V130.5 H888.5 V137.5" stroke-width="1" fill="none" />
<path d="M873.1,117.5 V106.6 L877.0,94.3 H889.7 L888.0,106.6 V110.5 M887.7,96.5 L886.4,108" stroke-width="1" fill="none" />
<rect x="873.5" y="113.5" width="15.0" height="5.0" rx="0" stroke-width="1" fill="none" />
<circle cx="874.8" cy="114.9" r="1.7" stroke-width="1.2" fill="#000"/>
<line x1="873.0" y1="125.5" x2="877.0" y2="125.5" stroke-width="1.2" />
<line x1="876.5" y1="122.0" x2="876.5" y2="128.0" stroke-width="1.2" />
<path d="M880.6,125 l3.6,-2.4 v4.8 z" stroke-width="0.7" fill="#000" />
<line x1="883.1" y1="125.0" x2="890.7" y2="125.0" stroke-width="1.6" />
<line x1="879.5" y1="104.0" x2="879.5" y2="180.0" stroke-width="1" />
<rect x="726.5" y="137.5" width="29.0" height="36.0" rx="0" stroke-width="1" fill="#fff" />
<line x1="727.0" y1="137.4" x2="727.0" y2="173.6" stroke-width="1.6" />
<line x1="755.4" y1="137.4" x2="755.4" y2="173.6" stroke-width="1.6" />
<line x1="726.7" y1="173.4" x2="755.7" y2="173.4" stroke-width="1.7" />
<line x1="729.5" y1="137.0" x2="729.5" y2="174.0" stroke-width="0.8" />
<line x1="753.5" y1="137.0" x2="753.5" y2="174.0" stroke-width="0.8" />
<line x1="732.1" y1="137.4" x2="732.1" y2="173.6" stroke-width="1.5" />
<line x1="750.9" y1="137.4" x2="750.9" y2="173.6" stroke-width="1.5" />
<line x1="732.0" y1="154.5" x2="751.0" y2="154.5" stroke-width="1" />
<circle cx="741.3" cy="145.9" r="5.4" stroke-width="1.3" fill="none"/>
<line x1="737.6" y1="145.9" x2="745.0" y2="145.9" stroke-width="2.4" />
<line x1="741.3" y1="142.2" x2="741.3" y2="149.6" stroke-width="2.4" />
<line x1="734.0" y1="145.5" x2="749.0" y2="145.5" stroke-width="0.9" />
<circle cx="741.3" cy="162.2" r="5.4" stroke-width="1.3" fill="none"/>
<line x1="737.6" y1="162.2" x2="745.0" y2="162.2" stroke-width="2.4" />
<line x1="741.3" y1="158.5" x2="741.3" y2="165.9" stroke-width="2.4" />
<line x1="730.0" y1="162.5" x2="753.0" y2="162.5" stroke-width="0.9" />
<rect x="864.5" y="137.5" width="29.0" height="36.0" rx="0" stroke-width="1" fill="#fff" />
<line x1="864.8" y1="137.4" x2="864.8" y2="173.6" stroke-width="1.6" />
<line x1="893.2" y1="137.4" x2="893.2" y2="173.6" stroke-width="1.6" />
<line x1="864.5" y1="173.4" x2="893.5" y2="173.4" stroke-width="1.7" />
<line x1="866.5" y1="137.0" x2="866.5" y2="174.0" stroke-width="0.8" />
<line x1="891.5" y1="137.0" x2="891.5" y2="174.0" stroke-width="0.8" />
<line x1="869.9" y1="137.4" x2="869.9" y2="173.6" stroke-width="1.5" />
<line x1="888.7" y1="137.4" x2="888.7" y2="173.6" stroke-width="1.5" />
<line x1="870.0" y1="154.5" x2="889.0" y2="154.5" stroke-width="1" />
<circle cx="879.1" cy="145.9" r="5.4" stroke-width="1.3" fill="none"/>
<line x1="875.4" y1="145.9" x2="882.8" y2="145.9" stroke-width="2.4" />
<line x1="879.1" y1="142.2" x2="879.1" y2="149.6" stroke-width="2.4" />
<line x1="872.0" y1="145.5" x2="887.0" y2="145.5" stroke-width="0.9" />
<circle cx="879.1" cy="162.2" r="5.4" stroke-width="1.3" fill="none"/>
<line x1="875.4" y1="162.2" x2="882.8" y2="162.2" stroke-width="2.4" />
<line x1="879.1" y1="158.5" x2="879.1" y2="165.9" stroke-width="2.4" />
<line x1="868.0" y1="162.5" x2="891.0" y2="162.5" stroke-width="0.9" />
<rect x="772.5" y="137.5" width="76.0" height="36.0" rx="0" stroke-width="1" fill="#fff" />
<line x1="773.0" y1="137.2" x2="773.0" y2="173.8" stroke-width="1.8" />
<line x1="848.4" y1="137.2" x2="848.4" y2="173.8" stroke-width="1.8" />
<line x1="772.6" y1="173.6" x2="848.8" y2="173.6" stroke-width="1.7" />
<line x1="777.5" y1="137.0" x2="777.5" y2="174.0" stroke-width="0.8" />
<line x1="842.5" y1="137.0" x2="842.5" y2="174.0" stroke-width="0.8" />
<line x1="797.5" y1="137.0" x2="797.5" y2="174.0" stroke-width="1" />
<line x1="824.5" y1="137.0" x2="824.5" y2="174.0" stroke-width="1" />
<line x1="801.7" y1="137.2" x2="801.7" y2="173.8" stroke-width="1.5" />
<line x1="820.0" y1="137.2" x2="820.0" y2="173.8" stroke-width="1.5" />
<line x1="802.0" y1="154.5" x2="820.0" y2="154.5" stroke-width="1" />
<circle cx="810.3" cy="145.6" r="5.4" stroke-width="1.3" fill="none"/>
<line x1="806.6" y1="145.6" x2="814.0" y2="145.6" stroke-width="2.4" />
<line x1="810.3" y1="141.9" x2="810.3" y2="149.3" stroke-width="2.4" />
<line x1="803.0" y1="145.5" x2="818.0" y2="145.5" stroke-width="0.9" />
<circle cx="810.3" cy="162.2" r="5.4" stroke-width="1.3" fill="none"/>
<line x1="806.6" y1="162.2" x2="814.0" y2="162.2" stroke-width="2.4" />
<line x1="810.3" y1="158.5" x2="810.3" y2="165.9" stroke-width="2.4" />
<line x1="803.0" y1="162.5" x2="818.0" y2="162.5" stroke-width="0.9" />
<line x1="776.0" y1="163.5" x2="845.0" y2="163.5" stroke-width="0.9" />
<ellipse cx="786.6" cy="145.7" rx="3.6" ry="2.5" stroke-width="0.9"/>
<line x1="781.0" y1="145.5" x2="793.0" y2="145.5" stroke-width="0.9" />
<line x1="786.5" y1="134.0" x2="786.5" y2="178.0" stroke-width="0.9" />
<rect x="779.5" y="154.5" width="15.0" height="16.0" rx="3" stroke-width="1" fill="none" />
<ellipse cx="832.4" cy="145.7" rx="3.6" ry="2.5" stroke-width="0.9"/>
<line x1="826.0" y1="145.5" x2="839.0" y2="145.5" stroke-width="0.9" />
<line x1="832.5" y1="134.0" x2="832.5" y2="178.0" stroke-width="0.9" />
<rect x="825.5" y="154.5" width="16.0" height="16.0" rx="3" stroke-width="1" fill="none" />
<path d="M726.5,145.5 H717.5 V175.5 H707.5" stroke-width="1" fill="none" />
<line x1="741.5" y1="180.0" x2="741.5" y2="250.0" stroke-width="1" />
<line x1="879.5" y1="180.0" x2="879.5" y2="250.0" stroke-width="1" />
<path d="M723.6,215.8 V239 H759.3 V215.8" stroke-width="1.5" fill="none" />
<path d="M861.5,215.8 V239 H897.1 V215.8" stroke-width="1.5" fill="none" />
<rect x="828" y="92" width="35" height="15.5" fill="#fff" stroke="none"/>
<line x1="814.0" y1="110.5" x2="876.0" y2="110.5" stroke-width="1" />
<polygon points="816.6,110.5 821.6,109.1 821.6,111.9" fill="#000" stroke="#000" stroke-width="0.6"/>
<polygon points="874.0,110.5 869.0,109.1 869.0,111.9" fill="#000" stroke="#000" stroke-width="0.6"/>
<text x="830.0" y="105.8" font-size="16" fill="#202028" stroke="none" >30.3</text>
<rect x="499.5" y="289.5" width="158.0" height="6.0" rx="0" stroke-width="1" fill="#fff" />
<line x1="500.0" y1="291.5" x2="657.0" y2="291.5" stroke-width="0.9" />
<line x1="512.0" y1="294.7" x2="646.0" y2="294.7" stroke-width="1.8" />
<line x1="527.5" y1="289.0" x2="527.5" y2="295.0" stroke-width="0.9" />
<line x1="548.5" y1="289.0" x2="548.5" y2="295.0" stroke-width="0.9" />
<line x1="606.5" y1="289.0" x2="606.5" y2="295.0" stroke-width="0.9" />
<line x1="628.5" y1="289.0" x2="628.5" y2="295.0" stroke-width="0.9" />
<line x1="527.0" y1="293.5" x2="549.0" y2="293.5" stroke-width="0.8" />
<line x1="606.0" y1="293.5" x2="629.0" y2="293.5" stroke-width="0.8" />
<rect x="654.5" y="289.5" width="3.0" height="6.0" rx="0" stroke-width="0.8" fill="url(#hatch)" />
<rect x="486.5" y="294.5" width="13.0" height="5.0" rx="0" stroke-width="1" fill="#fff" />
<line x1="490.5" y1="294.0" x2="490.5" y2="299.0" stroke-width="1" />
<line x1="494.5" y1="294.0" x2="494.5" y2="299.0" stroke-width="1" />
<rect x="496.5" y="294.5" width="3.0" height="5.0" rx="0" stroke-width="0.8" fill="url(#hatch)" />
<path d="M499.5,294.5 H514.5 V336.5 H530.5 V341.5 H510.5 V307.5 H499.5 Z" stroke-width="1" fill="url(#hatch)" />
<rect x="502.5" y="294.5" width="10.0" height="6.0" rx="0" stroke-width="1" fill="#fff" />
<path d="M506.5,307.5 V341.5 H510.5" stroke-width="1.2" fill="none" />
<path d="M565.5,336.5 H578.5 V319.5 H582.5 V333.5 H591.5 V319.5 H595.5 V333.5 H611.5 V319.5 H615.5 V336.5 H641.5 V321.5 H646.5 V341.5 H565.5 Z" stroke-width="1" fill="url(#hatch)" />
<path d="M530.5,336.5 H565.5 M530.5,341.5 H565.5" stroke-width="1" fill="none" />
<line x1="506.0" y1="341.5" x2="650.0" y2="341.5" stroke-width="1.2" />
<line x1="514.0" y1="336.5" x2="579.0" y2="336.5" stroke-width="1" />
<line x1="615.0" y1="336.5" x2="641.0" y2="336.5" stroke-width="1" />
<path d="M641.5,295.5 H657.5 V304.5 H641.5 Z" stroke-width="1" fill="url(#hatch)" />
<rect x="643.5" y="295.5" width="10.0" height="5.0" rx="0" stroke-width="1" fill="#fff" />
<line x1="641.5" y1="295.0" x2="641.5" y2="337.0" stroke-width="1" />
<path d="M657.5,295.5 H679.5 Q680.5,295.5 680.5,297.5 V300.5 H668.5 L661.5,304.5 H641.5 V304.5 H657.5 Z" stroke-width="1" fill="url(#hatch)" />
<path d="M641.5,321.5 H661.5 L668.5,325.5 H680.5 V328.5 Q680.5,330.5 679.5,330.5 H657.5 V335.5 H654.5 V330.5 H650.5 V326.5 H646.5 V321.5 Z" stroke-width="1" fill="url(#hatch)" />
<line x1="680.5" y1="296.0" x2="680.5" y2="329.0" stroke-width="1.2" />
<line x1="661.5" y1="304.0" x2="661.5" y2="321.0" stroke-width="1" />
<line x1="668.5" y1="300.0" x2="668.5" y2="325.0" stroke-width="1" />
<rect x="646.5" y="326.5" width="4.0" height="15.0" rx="0" stroke-width="1" fill="#fff" />
<line x1="635.0" y1="313.5" x2="689.0" y2="313.5" stroke-width="1" />
<line x1="518.1" y1="342.3" x2="525.9" y2="342.3" stroke-width="1.6" />
<line x1="631.4" y1="342.3" x2="637.6" y2="342.3" stroke-width="1.6" />
<path d="M579.5,319.5 V307.5 H615.5 V319.5" stroke-width="1" fill="none" />
<line x1="547.2" y1="317.3" x2="615.9" y2="317.3" stroke-width="2.4" />
<line x1="556.5" y1="311.0" x2="556.5" y2="321.0" stroke-width="1.2" />
<rect x="554.5" y="313.5" width="4.0" height="3.0" rx="0" stroke-width="1" fill="#000" />
<line x1="566.5" y1="314.0" x2="566.5" y2="320.0" stroke-width="1.2" />
<path d="M583.5,333.5 V317.5 Q583.5,314.5 585.5,314.5 H589.5 Q591.5,314.5 591.5,317.5 V333.5" stroke-width="1.2" fill="#fff" />
<line x1="587.5" y1="310.0" x2="587.5" y2="336.0" stroke-width="1" />
<line x1="585.5" y1="319.0" x2="585.5" y2="333.0" stroke-width="0.8" />
<line x1="589.5" y1="319.0" x2="589.5" y2="333.0" stroke-width="0.8" />
<rect x="595.5" y="309.5" width="18.0" height="3.0" rx="0" stroke-width="1.3" fill="#fff" />
<rect x="600.5" y="312.5" width="8.0" height="16.0" rx="0" stroke-width="1.2" fill="#fff" />
<line x1="604.5" y1="306.0" x2="604.5" y2="334.0" stroke-width="1" />
<line x1="599.0" y1="322.5" x2="610.0" y2="322.5" stroke-width="1.3" />
<line x1="600.0" y1="325.5" x2="608.0" y2="325.5" stroke-width="1" />
<line x1="600.0" y1="315.5" x2="608.0" y2="315.5" stroke-width="0.8" />
<line x1="600.0" y1="318.5" x2="608.0" y2="318.5" stroke-width="0.8" />
<path d="M694.1,313.7 L698.6,311.5 V312.2 H709.6 V315.59999999999997 H698.6 V316.09999999999997 Z" stroke-width="0.9" fill="none" />
<path d="M747.3,313.7 L751.8,311.5 V312.2 H762.8 V315.59999999999997 H751.8 V316.09999999999997 Z" stroke-width="0.9" fill="none" />
<path d="M797,313.7 L801.5,311.5 V312.2 H811.9 V315.59999999999997 H801.5 V316.09999999999997 Z" stroke-width="0.9" fill="none" />
<rect x="714.5" y="299.5" width="6.0" height="26.0" rx="0" stroke-width="1.2" fill="none" />
<rect x="720.5" y="301.5" width="20.0" height="22.0" rx="0" stroke-width="1.2" fill="none" />
<rect x="768.5" y="299.5" width="8.0" height="26.0" rx="0" stroke-width="1.2" fill="none" />
<rect x="776.5" y="297.5" width="3.0" height="31.0" rx="0" stroke-width="1.2" fill="none" />
<rect x="779.5" y="299.5" width="12.0" height="26.0" rx="0" stroke-width="1.2" fill="none" />
<line x1="780.0" y1="302.5" x2="792.0" y2="302.5" stroke-width="0.9" />
<line x1="780.0" y1="304.5" x2="792.0" y2="304.5" stroke-width="0.9" />
<line x1="780.0" y1="307.5" x2="792.0" y2="307.5" stroke-width="0.9" />
<line x1="780.0" y1="309.5" x2="792.0" y2="309.5" stroke-width="0.9" />
<line x1="780.5" y1="313.5" x2="791.5" y2="313.5" stroke-width="2.0" />
<line x1="780.5" y1="316.5" x2="791.5" y2="316.5" stroke-width="2.0" />
<line x1="780.5" y1="319.5" x2="791.5" y2="319.5" stroke-width="2.0" />
<line x1="780.5" y1="322.7" x2="791.5" y2="322.7" stroke-width="2.0" />
<path d="M814.5,289.5 H842.5 L849.5,296.5 V331.5 L842.5,337.5 H814.5 Z" stroke-width="1.2" fill="none" />
<line x1="842.5" y1="290.0" x2="842.5" y2="338.0" stroke-width="1" />
<rect x="849.5" y="296.5" width="9.0" height="35.0" rx="0" stroke-width="1.2" fill="none" />
<line x1="850.0" y1="304.5" x2="858.0" y2="304.5" stroke-width="1" />
<line x1="850.0" y1="322.5" x2="858.0" y2="322.5" stroke-width="1" />
</svg>
</body></html>
